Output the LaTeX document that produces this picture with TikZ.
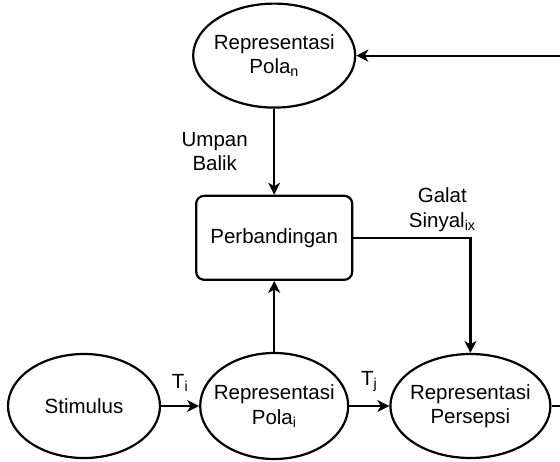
\documentclass[tikz,border=0pt]{standalone}
\usepackage{fontspec}
\setmainfont{Liberation Sans}
\usetikzlibrary{arrows.meta,positioning,shapes.geometric}
\tikzstyle{oval} = [ellipse, draw, line width=2.2pt, inner sep=-30pt,
  align=center, minimum width=152pt, minimum height=104pt]
\tikzstyle{box} = [rectangle, draw, line width=2.2pt, rounded corners=8pt,
  align=center, minimum width=156pt, minimum height=84pt]
\tikzstyle{conn} = [line width=2.2pt]

\begin{document}
\begin{tikzpicture}[>={Stealth[length=12pt,width=12pt,inset=3.5pt]},
    every node/.style={font=\fontsize{20.5}{24.6}\selectfont}]
    \useasboundingbox (0,0) rectangle (560pt,-461pt);

    \node[oval] (stim) at (84pt,-406pt) {Stimulus};
    \node[oval, right = 38pt of stim, minimum width=148pt, minimum height=106pt]
    (polai) {Representasi\\Pola\textsubscript{i}};
    \node[oval, right = 40pt of polai, minimum width=160pt] (pers)
    {Representasi\\Persepsi};

    \node[box, above = 71pt of polai] (cmp) {Perbandingan};
    \node[oval, above = 86pt of cmp, minimum width=162pt] (polan)
    {Representasi\\Pola\textsubscript{n}};

    \coordinate (outR) at ([xshift=25pt]pers.east);
    \coordinate (inR) at ([xshift=210pt]polan.east);

    \draw[conn, ->] (stim) -- (polai) node[midway, above=10pt] (ti)
    {T\textsubscript{i}};
    \draw[conn, ->] (polai) -- (pers) node[midway, above=10pt] (tj)
    {T\textsubscript{j}};
    \draw[conn, ->] (polai) -- (cmp);
    \draw[conn, ->] (polan) -- (cmp) node[midway, left=22pt, align=center]
    (fb) {Umpan\\Balik};
    \draw[conn, ->] (cmp.east) -| node[pos=0.38, above=2pt, align=center]
    (err) {Galat\\Sinyal\textsubscript{ix}} (pers.north);

    \draw[conn] (pers) -- (outR);
    \draw[conn, ->] (inR) -- (polan);

  \end{tikzpicture}
\end{document}
